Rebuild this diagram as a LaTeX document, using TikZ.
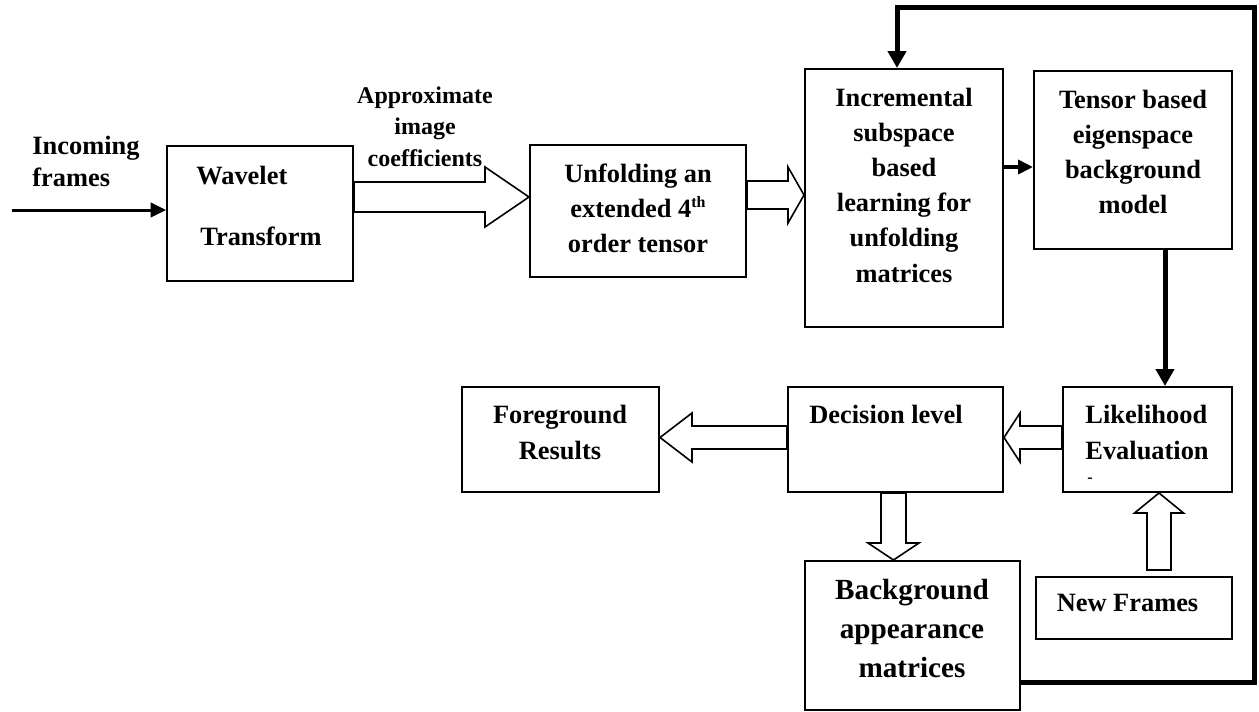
\documentclass[tikz,border=0pt]{standalone}
\usepackage{fontspec}
\setmainfont{Liberation Serif}
\usetikzlibrary{arrows.meta,calc,fit}
\newcommand\hollowarrow[5]{%
  \path ($(#2)!#5!(#1)$) coordinate (hb);
  \draw[harrow] ($(#1)!#3!90:(#2)$) -- ($(hb)!#3!90:(#2)$) -- ($(hb)!#4!90:(#2)$) -- (#2)
    -- ($(hb)!#4!-90:(#2)$) -- ($(hb)!#3!-90:(#2)$) -- ($(#1)!#3!-90:(#2)$) -- cycle;}
\begin{document}
\begin{tikzpicture}[x=0.5pt,y=-0.5pt,
  box/.style={draw, line width=1pt, inner sep=0pt},
  txt/.style={font=\bfseries\fontsize{13.2}{17.6}\selectfont, align=center, inner sep=0pt},
  smalltxt/.style={font=\bfseries\fontsize{12}{15.75}\selectfont, align=center, inner sep=0pt},
  bigtxt/.style={font=\bfseries\fontsize{14.6}{19.5}\selectfont, align=center, inner sep=0pt},
  harrow/.style={draw, fill=white, line width=0.8pt, line join=miter},
  thinarrow/.style={line width=1.5pt, -{Triangle[length=7.75pt,width=7.25pt]}},
  medarrow/.style={line width=2pt, -{Triangle[length=7.5pt,width=7pt]}},
  thickarrow/.style={line width=2.5pt, line join=miter, -{Triangle[length=8.5pt,width=9pt]}}]
\useasboundingbox (0,0) rectangle (1259,712);
\fill[white] (0,0) rectangle (1259,712);

% boxes
\node[box, fit={(167,146) (353,281)}] (wav) {};
\node[box, fit={(530,145) (746,277)}] (unf) {};
\node[box, fit={(805,69) (1003,327)}] (inc) {};
\node[box, fit={(1034,71) (1232,249)}] (ten) {};
\node[box, fit={(1063,387) (1232,492)}] (lik) {};
\node[box, fit={(788,387) (1003,492)}] (dec) {};
\node[box, fit={(462,387) (659,492)}] (fg) {};
\node[box, fit={(805,561) (1020,710)}] (bg) {};
\node[box, fit={(1036,577) (1232,639)}] (nf) {};

% texts
\node[txt, font=\bfseries\fontsize{13.2}{16}\selectfont, align=left, anchor=west] (tin) at (32,161) {Incoming\\frames};
\node[smalltxt] (tapp) at (425,126.5) {Approximate\\image\\coefficients};
\node[txt, font=\bfseries\fontsize{13.2}{30.5}\selectfont, align=left, anchor=west] (twav) at (196,205.5) {Wavelet\\\hspace{2pt}Transform};
\node[txt, font=\bfseries\fontsize{13.2}{17.5}\selectfont] (tunf) at (638,208) {Unfolding an\\extended 4{\fontsize{8}{8}\selectfont\raisebox{5pt}{th}}\\order tensor};
\node[txt] (tinc) at (904,185) {Incremental\\subspace\\based\\learning for\\unfolding\\matrices};
\node[txt] (tten) at (1133,152) {Tensor based\\eigenspace\\background\\model};
\node[txt, font=\bfseries\fontsize{13.2}{18}\selectfont] (tfg) at (560,432) {Foreground\\Results};
\node[txt] (tdec) at (886,414) {Decision level};
\node[txt, font=\bfseries\fontsize{13.2}{18}\selectfont, align=left, anchor=west] (tlik) at (1085,432) {Likelihood\\Evaluation};
\node[inner sep=0pt, font=\bfseries\fontsize{8}{8}\selectfont] (tmark) at (1090,480) {-};
\node[bigtxt] (tbg) at (912,629) {Background\\appearance\\matrices};
\node[txt] (tnf) at (1127.5,603) {New Frames};

% incoming arrow
\coordinate (inS) at (12,210);
\draw[thinarrow] (inS) -- (inS -| wav.west);

% hollow arrows
\coordinate (a1s) at (wav.east |- 0,197);
\coordinate (a1e) at (unf.west |- 0,197);
\hollowarrow{a1s}{a1e}{7.5pt}{15pt}{22pt}
\coordinate (a2s) at (unf.east |- 0,195);
\coordinate (a2e) at (inc.west |- 0,195);
\hollowarrow{a2s}{a2e}{7pt}{14pt}{8pt}
\coordinate (a3s) at (lik.west |- 0,437.5);
\coordinate (a3e) at (dec.east |- 0,437.5);
\hollowarrow{a3s}{a3e}{5.75pt}{12.25pt}{8pt}
\coordinate (a4s) at (dec.west |- 0,437.5);
\coordinate (a4e) at (fg.east |- 0,437.5);
\hollowarrow{a4s}{a4e}{5.75pt}{12.25pt}{16pt}
\coordinate (a5s) at (dec.south -| 893.5,0);
\coordinate (a5e) at (bg.north -| 893.5,0);
\hollowarrow{a5s}{a5e}{6.25pt}{12.75pt}{8.5pt}
\coordinate (a6s) at (nf.north -| 1159,0);
\coordinate (a6s) at ($(a6s)+(0,-6)$);
\coordinate (a6e) at (lik.south -| 1159,0);
\hollowarrow{a6s}{a6e}{6pt}{12.25pt}{10pt}

% solid arrows
\draw[medarrow] (inc.east |- 0,167) -- (ten.west |- 0,167);
\draw[thickarrow] (ten.south -| 1165,0) -- (lik.north -| 1165,0);

% feedback loop
\coordinate (fbR) at (1254,682);
\coordinate (fbT) at (1254,7);
\coordinate (fbL) at (897,7);
\draw[thickarrow] (bg.east |- fbR) -- (fbR) -- (fbT) -- (fbL) -- (inc.north -| fbL);
\end{tikzpicture}
\end{document}
